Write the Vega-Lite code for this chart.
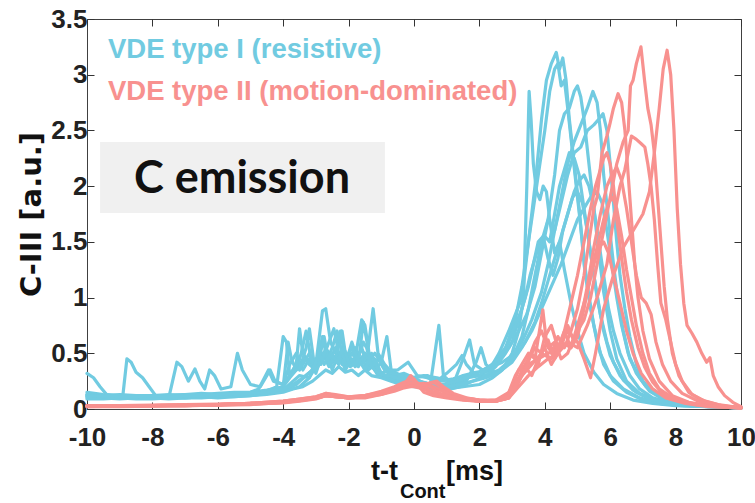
{
"$schema": "https://vega.github.io/schema/vega-lite/v6.json",
"width": 654, "height": 390,
"autosize": {"type": "none"},
"padding": {"left": 87, "top": 19, "right": 14, "bottom": 94},
"background": "white",
"config": {
 "view": {"stroke": "#404040", "strokeWidth": 1},
 "axis": {"labelFont": "Liberation Sans, Arial, sans-serif", "labelFontSize": 26, "labelFontWeight": "bold", "labelColor": "#222", "tickColor": "#333333", "tickWidth": 1, "ticks": true, "domain": false, "grid": false, "tickSize": -7, "labelOverlap": false, "labelFlush": false, "labelBound": false}
},
"datasets": {
 "box": [{"x": -9.6, "x2": -0.89, "y": 2.396, "y2": 1.759}],
 "leg": [{"t": "VDE type I (resistive)", "g": "I", "x": -9.36, "y": 3.15}, {"t": "VDE type II (motion-dominated)", "g": "II", "x": -9.36, "y": 2.77}],
 "lab": [{"t": "C emission", "x": -5.26, "y": 1.94}],
 "xt1": [{"t": "t-t", "x": -0.49, "y": -0.64}],
 "xt3": [{"t": "[ms]", "x": 0.98, "y": -0.64}],
 "xt2": [{"t": "Cont", "x": -0.43, "y": -0.8}],
 "lines": [
{"g":"I","s":1,"x":-10,"y":0.13},{"g":"I","s":1,"x":-9.5,"y":0.12},{"g":"I","s":1,"x":-9,"y":0.11},{"g":"I","s":1,"x":-8.5,"y":0.12},{"g":"I","s":1,"x":-8,"y":0.11},{"g":"I","s":1,"x":-7.5,"y":0.12},{"g":"I","s":1,"x":-7,"y":0.11},{"g":"I","s":1,"x":-6.5,"y":0.12},{"g":"I","s":1,"x":-6,"y":0.13},{"g":"I","s":1,"x":-5.5,"y":0.12},{"g":"I","s":1,"x":-5,"y":0.14},{"g":"I","s":1,"x":-4.5,"y":0.15},{"g":"I","s":1,"x":-4,"y":0.17},{"g":"I","s":1,"x":-3.7,"y":0.25},{"g":"I","s":1,"x":-3.5,"y":0.3},{"g":"I","s":1,"x":-3.2,"y":0.28},{"g":"I","s":1,"x":-3,"y":0.38},{"g":"I","s":1,"x":-2.8,"y":0.5},{"g":"I","s":1,"x":-2.6,"y":0.42},{"g":"I","s":1,"x":-2.4,"y":0.55},{"g":"I","s":1,"x":-2.2,"y":0.4},{"g":"I","s":1,"x":-2,"y":0.48},{"g":"I","s":1,"x":-1.8,"y":0.38},{"g":"I","s":1,"x":-1.6,"y":0.45},{"g":"I","s":1,"x":-1.4,"y":0.35},{"g":"I","s":1,"x":-1.2,"y":0.4},{"g":"I","s":1,"x":-1,"y":0.3},{"g":"I","s":1,"x":-0.7,"y":0.28},{"g":"I","s":1,"x":-0.4,"y":0.25},{"g":"I","s":1,"x":0,"y":0.22},{"g":"I","s":1,"x":0.5,"y":0.2},{"g":"I","s":1,"x":1,"y":0.18},{"g":"I","s":1,"x":1.5,"y":0.2},{"g":"I","s":1,"x":2,"y":0.22},{"g":"I","s":1,"x":2.4,"y":0.28},{"g":"I","s":1,"x":2.7,"y":0.35},{"g":"I","s":1,"x":3,"y":0.5},{"g":"I","s":1,"x":3.2,"y":0.7},{"g":"I","s":1,"x":3.35,"y":1.0},{"g":"I","s":1,"x":3.45,"y":2.0},{"g":"I","s":1,"x":3.52,"y":2.85},{"g":"I","s":1,"x":3.58,"y":2.6},{"g":"I","s":1,"x":3.65,"y":2.2},{"g":"I","s":1,"x":3.75,"y":1.95},{"g":"I","s":1,"x":3.85,"y":1.88},{"g":"I","s":1,"x":3.95,"y":2.0},{"g":"I","s":1,"x":4.05,"y":1.95},{"g":"I","s":1,"x":4.15,"y":1.7},{"g":"I","s":1,"x":4.3,"y":1.4},{"g":"I","s":1,"x":4.45,"y":1.5},{"g":"I","s":1,"x":4.6,"y":1.25},{"g":"I","s":1,"x":4.8,"y":0.95},{"g":"I","s":1,"x":5,"y":0.7},{"g":"I","s":1,"x":5.2,"y":0.5},{"g":"I","s":1,"x":5.5,"y":0.33},{"g":"I","s":1,"x":5.8,"y":0.22},{"g":"I","s":1,"x":6.2,"y":0.14},{"g":"I","s":1,"x":6.7,"y":0.08},{"g":"I","s":1,"x":7.3,"y":0.05},{"g":"I","s":1,"x":8,"y":0.03},{"g":"I","s":1,"x":9,"y":0.02},{"g":"I","s":1,"x":10,"y":0.01},
{"g":"I","s":2,"x":-10,"y":0.15},{"g":"I","s":2,"x":-9.5,"y":0.13},{"g":"I","s":2,"x":-9,"y":0.12},{"g":"I","s":2,"x":-8.9,"y":0.13},{"g":"I","s":2,"x":-8.78,"y":0.45},{"g":"I","s":2,"x":-8.65,"y":0.42},{"g":"I","s":2,"x":-8.5,"y":0.33},{"g":"I","s":2,"x":-8.3,"y":0.28},{"g":"I","s":2,"x":-8.1,"y":0.2},{"g":"I","s":2,"x":-7.9,"y":0.12},{"g":"I","s":2,"x":-7.5,"y":0.12},{"g":"I","s":2,"x":-7,"y":0.13},{"g":"I","s":2,"x":-6.5,"y":0.12},{"g":"I","s":2,"x":-6,"y":0.13},{"g":"I","s":2,"x":-5.5,"y":0.14},{"g":"I","s":2,"x":-5,"y":0.15},{"g":"I","s":2,"x":-4.5,"y":0.17},{"g":"I","s":2,"x":-4,"y":0.2},{"g":"I","s":2,"x":-3.85,"y":0.6},{"g":"I","s":2,"x":-3.75,"y":0.45},{"g":"I","s":2,"x":-3.6,"y":0.35},{"g":"I","s":2,"x":-3.45,"y":0.5},{"g":"I","s":2,"x":-3.3,"y":0.7},{"g":"I","s":2,"x":-3.15,"y":0.45},{"g":"I","s":2,"x":-3,"y":0.4},{"g":"I","s":2,"x":-2.8,"y":0.88},{"g":"I","s":2,"x":-2.7,"y":0.9},{"g":"I","s":2,"x":-2.55,"y":0.6},{"g":"I","s":2,"x":-2.4,"y":0.5},{"g":"I","s":2,"x":-2.25,"y":0.7},{"g":"I","s":2,"x":-2.1,"y":0.45},{"g":"I","s":2,"x":-1.9,"y":0.5},{"g":"I","s":2,"x":-1.7,"y":0.42},{"g":"I","s":2,"x":-1.55,"y":0.78},{"g":"I","s":2,"x":-1.4,"y":0.55},{"g":"I","s":2,"x":-1.25,"y":0.9},{"g":"I","s":2,"x":-1.1,"y":0.5},{"g":"I","s":2,"x":-0.9,"y":0.4},{"g":"I","s":2,"x":-0.6,"y":0.3},{"g":"I","s":2,"x":-0.3,"y":0.32},{"g":"I","s":2,"x":0,"y":0.28},{"g":"I","s":2,"x":0.4,"y":0.3},{"g":"I","s":2,"x":0.8,"y":0.25},{"g":"I","s":2,"x":1.2,"y":0.27},{"g":"I","s":2,"x":1.6,"y":0.3},{"g":"I","s":2,"x":2,"y":0.33},{"g":"I","s":2,"x":2.4,"y":0.4},{"g":"I","s":2,"x":2.8,"y":0.55},{"g":"I","s":2,"x":3.1,"y":0.8},{"g":"I","s":2,"x":3.3,"y":1.1},{"g":"I","s":2,"x":3.5,"y":1.5},{"g":"I","s":2,"x":3.7,"y":2.0},{"g":"I","s":2,"x":3.9,"y":2.6},{"g":"I","s":2,"x":4.05,"y":2.95},{"g":"I","s":2,"x":4.2,"y":3.1},{"g":"I","s":2,"x":4.35,"y":3.2},{"g":"I","s":2,"x":4.45,"y":3.05},{"g":"I","s":2,"x":4.55,"y":3.15},{"g":"I","s":2,"x":4.65,"y":2.95},{"g":"I","s":2,"x":4.75,"y":2.6},{"g":"I","s":2,"x":4.9,"y":2.2},{"g":"I","s":2,"x":5.05,"y":1.8},{"g":"I","s":2,"x":5.2,"y":1.3},{"g":"I","s":2,"x":5.4,"y":0.9},{"g":"I","s":2,"x":5.6,"y":0.6},{"g":"I","s":2,"x":5.8,"y":0.4},{"g":"I","s":2,"x":6.1,"y":0.25},{"g":"I","s":2,"x":6.5,"y":0.15},{"g":"I","s":2,"x":7,"y":0.08},{"g":"I","s":2,"x":7.5,"y":0.05},{"g":"I","s":2,"x":8.2,"y":0.03},{"g":"I","s":2,"x":9,"y":0.02},{"g":"I","s":2,"x":10,"y":0.01},
{"g":"I","s":3,"x":-10,"y":0.32},{"g":"I","s":3,"x":-9.8,"y":0.28},{"g":"I","s":3,"x":-9.6,"y":0.2},{"g":"I","s":3,"x":-9.4,"y":0.13},{"g":"I","s":3,"x":-9,"y":0.11},{"g":"I","s":3,"x":-8.5,"y":0.1},{"g":"I","s":3,"x":-8,"y":0.1},{"g":"I","s":3,"x":-7.5,"y":0.1},{"g":"I","s":3,"x":-7.25,"y":0.42},{"g":"I","s":3,"x":-7.1,"y":0.38},{"g":"I","s":3,"x":-6.9,"y":0.25},{"g":"I","s":3,"x":-6.7,"y":0.36},{"g":"I","s":3,"x":-6.55,"y":0.25},{"g":"I","s":3,"x":-6.4,"y":0.18},{"g":"I","s":3,"x":-6.25,"y":0.35},{"g":"I","s":3,"x":-6.1,"y":0.3},{"g":"I","s":3,"x":-5.9,"y":0.18},{"g":"I","s":3,"x":-5.6,"y":0.2},{"g":"I","s":3,"x":-5.4,"y":0.5},{"g":"I","s":3,"x":-5.25,"y":0.35},{"g":"I","s":3,"x":-5,"y":0.22},{"g":"I","s":3,"x":-4.7,"y":0.2},{"g":"I","s":3,"x":-4.4,"y":0.35},{"g":"I","s":3,"x":-4.25,"y":0.25},{"g":"I","s":3,"x":-4,"y":0.22},{"g":"I","s":3,"x":-3.8,"y":0.4},{"g":"I","s":3,"x":-3.6,"y":0.5},{"g":"I","s":3,"x":-3.4,"y":0.35},{"g":"I","s":3,"x":-3.2,"y":0.45},{"g":"I","s":3,"x":-3,"y":0.32},{"g":"I","s":3,"x":-2.8,"y":0.5},{"g":"I","s":3,"x":-2.6,"y":0.38},{"g":"I","s":3,"x":-2.4,"y":0.45},{"g":"I","s":3,"x":-2.2,"y":0.7},{"g":"I","s":3,"x":-2.05,"y":0.4},{"g":"I","s":3,"x":-1.8,"y":0.4},{"g":"I","s":3,"x":-1.6,"y":0.55},{"g":"I","s":3,"x":-1.4,"y":0.38},{"g":"I","s":3,"x":-1.2,"y":0.45},{"g":"I","s":3,"x":-1,"y":0.32},{"g":"I","s":3,"x":-0.8,"y":0.35},{"g":"I","s":3,"x":-0.5,"y":0.28},{"g":"I","s":3,"x":-0.2,"y":0.3},{"g":"I","s":3,"x":0.2,"y":0.25},{"g":"I","s":3,"x":0.5,"y":0.22},{"g":"I","s":3,"x":0.76,"y":0.75},{"g":"I","s":3,"x":0.9,"y":0.3},{"g":"I","s":3,"x":1.2,"y":0.22},{"g":"I","s":3,"x":1.5,"y":0.25},{"g":"I","s":3,"x":1.7,"y":0.3},{"g":"I","s":3,"x":2,"y":0.3},{"g":"I","s":3,"x":2.3,"y":0.35},{"g":"I","s":3,"x":2.6,"y":0.5},{"g":"I","s":3,"x":2.9,"y":0.7},{"g":"I","s":3,"x":3.1,"y":0.85},{"g":"I","s":3,"x":3.3,"y":1.0},{"g":"I","s":3,"x":3.5,"y":1.5},{"g":"I","s":3,"x":3.7,"y":1.9},{"g":"I","s":3,"x":3.85,"y":2.2},{"g":"I","s":3,"x":4.0,"y":2.5},{"g":"I","s":3,"x":4.15,"y":2.85},{"g":"I","s":3,"x":4.3,"y":3.05},{"g":"I","s":3,"x":4.4,"y":3.1},{"g":"I","s":3,"x":4.5,"y":2.9},{"g":"I","s":3,"x":4.6,"y":2.95},{"g":"I","s":3,"x":4.7,"y":2.7},{"g":"I","s":3,"x":4.85,"y":2.3},{"g":"I","s":3,"x":5.0,"y":1.9},{"g":"I","s":3,"x":5.15,"y":1.5},{"g":"I","s":3,"x":5.3,"y":1.1},{"g":"I","s":3,"x":5.5,"y":0.75},{"g":"I","s":3,"x":5.7,"y":0.5},{"g":"I","s":3,"x":6,"y":0.3},{"g":"I","s":3,"x":6.4,"y":0.18},{"g":"I","s":3,"x":6.9,"y":0.1},{"g":"I","s":3,"x":7.5,"y":0.05},{"g":"I","s":3,"x":8.3,"y":0.03},{"g":"I","s":3,"x":9.2,"y":0.02},{"g":"I","s":3,"x":10,"y":0.01},
{"g":"I","s":4,"x":-10,"y":0.12},{"g":"I","s":4,"x":-9.5,"y":0.11},{"g":"I","s":4,"x":-9,"y":0.12},{"g":"I","s":4,"x":-8.5,"y":0.11},{"g":"I","s":4,"x":-8,"y":0.12},{"g":"I","s":4,"x":-7.5,"y":0.13},{"g":"I","s":4,"x":-7,"y":0.12},{"g":"I","s":4,"x":-6.5,"y":0.13},{"g":"I","s":4,"x":-6,"y":0.14},{"g":"I","s":4,"x":-5.5,"y":0.15},{"g":"I","s":4,"x":-5,"y":0.15},{"g":"I","s":4,"x":-4.5,"y":0.16},{"g":"I","s":4,"x":-4.2,"y":0.2},{"g":"I","s":4,"x":-4,"y":0.65},{"g":"I","s":4,"x":-3.9,"y":0.6},{"g":"I","s":4,"x":-3.8,"y":0.3},{"g":"I","s":4,"x":-3.6,"y":0.4},{"g":"I","s":4,"x":-3.5,"y":0.72},{"g":"I","s":4,"x":-3.4,"y":0.5},{"g":"I","s":4,"x":-3.2,"y":0.4},{"g":"I","s":4,"x":-3,"y":0.35},{"g":"I","s":4,"x":-2.8,"y":0.65},{"g":"I","s":4,"x":-2.65,"y":0.45},{"g":"I","s":4,"x":-2.5,"y":0.55},{"g":"I","s":4,"x":-2.35,"y":0.7},{"g":"I","s":4,"x":-2.2,"y":0.5},{"g":"I","s":4,"x":-2,"y":0.45},{"g":"I","s":4,"x":-1.8,"y":0.55},{"g":"I","s":4,"x":-1.6,"y":0.4},{"g":"I","s":4,"x":-1.4,"y":0.5},{"g":"I","s":4,"x":-1.2,"y":0.35},{"g":"I","s":4,"x":-1,"y":0.42},{"g":"I","s":4,"x":-0.83,"y":0.65},{"g":"I","s":4,"x":-0.7,"y":0.35},{"g":"I","s":4,"x":-0.4,"y":0.3},{"g":"I","s":4,"x":-0.1,"y":0.28},{"g":"I","s":4,"x":0.3,"y":0.3},{"g":"I","s":4,"x":0.7,"y":0.28},{"g":"I","s":4,"x":1.1,"y":0.25},{"g":"I","s":4,"x":1.5,"y":0.3},{"g":"I","s":4,"x":1.9,"y":0.33},{"g":"I","s":4,"x":2.3,"y":0.35},{"g":"I","s":4,"x":2.6,"y":0.45},{"g":"I","s":4,"x":2.9,"y":0.55},{"g":"I","s":4,"x":3.2,"y":0.7},{"g":"I","s":4,"x":3.45,"y":0.85},{"g":"I","s":4,"x":3.7,"y":1.1},{"g":"I","s":4,"x":3.9,"y":1.4},{"g":"I","s":4,"x":4.1,"y":1.7},{"g":"I","s":4,"x":4.3,"y":2.1},{"g":"I","s":4,"x":4.45,"y":2.5},{"g":"I","s":4,"x":4.6,"y":2.65},{"g":"I","s":4,"x":4.75,"y":2.7},{"g":"I","s":4,"x":4.9,"y":2.85},{"g":"I","s":4,"x":5.0,"y":2.9},{"g":"I","s":4,"x":5.1,"y":2.8},{"g":"I","s":4,"x":5.2,"y":2.6},{"g":"I","s":4,"x":5.35,"y":2.2},{"g":"I","s":4,"x":5.5,"y":1.8},{"g":"I","s":4,"x":5.65,"y":1.4},{"g":"I","s":4,"x":5.8,"y":1.05},{"g":"I","s":4,"x":6.0,"y":0.7},{"g":"I","s":4,"x":6.2,"y":0.45},{"g":"I","s":4,"x":6.5,"y":0.25},{"g":"I","s":4,"x":6.9,"y":0.14},{"g":"I","s":4,"x":7.4,"y":0.08},{"g":"I","s":4,"x":8,"y":0.04},{"g":"I","s":4,"x":9,"y":0.02},{"g":"I","s":4,"x":10,"y":0.01},
{"g":"I","s":5,"x":-10,"y":0.1},{"g":"I","s":5,"x":-9.5,"y":0.1},{"g":"I","s":5,"x":-9,"y":0.09},{"g":"I","s":5,"x":-8.5,"y":0.1},{"g":"I","s":5,"x":-8,"y":0.1},{"g":"I","s":5,"x":-7.5,"y":0.09},{"g":"I","s":5,"x":-7,"y":0.1},{"g":"I","s":5,"x":-6.5,"y":0.11},{"g":"I","s":5,"x":-6,"y":0.1},{"g":"I","s":5,"x":-5.5,"y":0.11},{"g":"I","s":5,"x":-5,"y":0.12},{"g":"I","s":5,"x":-4.5,"y":0.14},{"g":"I","s":5,"x":-4,"y":0.17},{"g":"I","s":5,"x":-3.6,"y":0.22},{"g":"I","s":5,"x":-3.3,"y":0.3},{"g":"I","s":5,"x":-3,"y":0.38},{"g":"I","s":5,"x":-2.85,"y":0.6},{"g":"I","s":5,"x":-2.7,"y":0.55},{"g":"I","s":5,"x":-2.5,"y":0.35},{"g":"I","s":5,"x":-2.3,"y":0.5},{"g":"I","s":5,"x":-2.1,"y":0.4},{"g":"I","s":5,"x":-1.9,"y":0.6},{"g":"I","s":5,"x":-1.7,"y":0.42},{"g":"I","s":5,"x":-1.5,"y":0.5},{"g":"I","s":5,"x":-1.3,"y":0.38},{"g":"I","s":5,"x":-1.1,"y":0.45},{"g":"I","s":5,"x":-0.9,"y":0.35},{"g":"I","s":5,"x":-0.6,"y":0.28},{"g":"I","s":5,"x":-0.3,"y":0.25},{"g":"I","s":5,"x":0,"y":0.27},{"g":"I","s":5,"x":0.4,"y":0.22},{"g":"I","s":5,"x":0.8,"y":0.2},{"g":"I","s":5,"x":1.2,"y":0.22},{"g":"I","s":5,"x":1.5,"y":0.45},{"g":"I","s":5,"x":1.7,"y":0.62},{"g":"I","s":5,"x":1.85,"y":0.4},{"g":"I","s":5,"x":2.1,"y":0.35},{"g":"I","s":5,"x":2.4,"y":0.38},{"g":"I","s":5,"x":2.7,"y":0.42},{"g":"I","s":5,"x":3,"y":0.48},{"g":"I","s":5,"x":3.3,"y":0.6},{"g":"I","s":5,"x":3.6,"y":0.8},{"g":"I","s":5,"x":3.9,"y":1.05},{"g":"I","s":5,"x":4.1,"y":1.3},{"g":"I","s":5,"x":4.3,"y":1.6},{"g":"I","s":5,"x":4.5,"y":1.9},{"g":"I","s":5,"x":4.7,"y":2.2},{"g":"I","s":5,"x":4.9,"y":2.4},{"g":"I","s":5,"x":5.1,"y":2.55},{"g":"I","s":5,"x":5.3,"y":2.7},{"g":"I","s":5,"x":5.47,"y":2.85},{"g":"I","s":5,"x":5.6,"y":2.75},{"g":"I","s":5,"x":5.7,"y":2.5},{"g":"I","s":5,"x":5.8,"y":2.1},{"g":"I","s":5,"x":5.95,"y":1.7},{"g":"I","s":5,"x":6.1,"y":1.3},{"g":"I","s":5,"x":6.25,"y":0.95},{"g":"I","s":5,"x":6.4,"y":0.7},{"g":"I","s":5,"x":6.6,"y":0.45},{"g":"I","s":5,"x":6.9,"y":0.28},{"g":"I","s":5,"x":7.2,"y":0.16},{"g":"I","s":5,"x":7.6,"y":0.09},{"g":"I","s":5,"x":8.1,"y":0.05},{"g":"I","s":5,"x":8.8,"y":0.03},{"g":"I","s":5,"x":10,"y":0.01},
{"g":"I","s":6,"x":-10,"y":0.11},{"g":"I","s":6,"x":-9.5,"y":0.1},{"g":"I","s":6,"x":-9,"y":0.11},{"g":"I","s":6,"x":-8.5,"y":0.1},{"g":"I","s":6,"x":-8,"y":0.1},{"g":"I","s":6,"x":-7.5,"y":0.11},{"g":"I","s":6,"x":-7,"y":0.1},{"g":"I","s":6,"x":-6.5,"y":0.11},{"g":"I","s":6,"x":-6,"y":0.12},{"g":"I","s":6,"x":-5.5,"y":0.12},{"g":"I","s":6,"x":-5,"y":0.13},{"g":"I","s":6,"x":-4.5,"y":0.14},{"g":"I","s":6,"x":-4,"y":0.16},{"g":"I","s":6,"x":-3.5,"y":0.2},{"g":"I","s":6,"x":-3.2,"y":0.28},{"g":"I","s":6,"x":-3,"y":0.45},{"g":"I","s":6,"x":-2.85,"y":0.4},{"g":"I","s":6,"x":-2.7,"y":0.55},{"g":"I","s":6,"x":-2.5,"y":0.45},{"g":"I","s":6,"x":-2.3,"y":0.5},{"g":"I","s":6,"x":-2.1,"y":0.35},{"g":"I","s":6,"x":-1.9,"y":0.45},{"g":"I","s":6,"x":-1.7,"y":0.38},{"g":"I","s":6,"x":-1.5,"y":0.5},{"g":"I","s":6,"x":-1.3,"y":0.4},{"g":"I","s":6,"x":-1.1,"y":0.3},{"g":"I","s":6,"x":-0.9,"y":0.28},{"g":"I","s":6,"x":-0.6,"y":0.25},{"g":"I","s":6,"x":-0.2,"y":0.22},{"g":"I","s":6,"x":0.2,"y":0.2},{"g":"I","s":6,"x":0.6,"y":0.18},{"g":"I","s":6,"x":1,"y":0.17},{"g":"I","s":6,"x":1.4,"y":0.2},{"g":"I","s":6,"x":1.8,"y":0.25},{"g":"I","s":6,"x":2.2,"y":0.3},{"g":"I","s":6,"x":2.6,"y":0.35},{"g":"I","s":6,"x":3.0,"y":0.45},{"g":"I","s":6,"x":3.3,"y":0.65},{"g":"I","s":6,"x":3.5,"y":0.9},{"g":"I","s":6,"x":3.7,"y":1.2},{"g":"I","s":6,"x":3.9,"y":1.5},{"g":"I","s":6,"x":4.1,"y":1.7},{"g":"I","s":6,"x":4.3,"y":1.6},{"g":"I","s":6,"x":4.5,"y":1.85},{"g":"I","s":6,"x":4.7,"y":2.1},{"g":"I","s":6,"x":4.9,"y":2.3},{"g":"I","s":6,"x":5.1,"y":2.35},{"g":"I","s":6,"x":5.3,"y":2.5},{"g":"I","s":6,"x":5.5,"y":2.55},{"g":"I","s":6,"x":5.65,"y":2.6},{"g":"I","s":6,"x":5.78,"y":2.65},{"g":"I","s":6,"x":5.9,"y":2.5},{"g":"I","s":6,"x":6.0,"y":2.2},{"g":"I","s":6,"x":6.1,"y":1.85},{"g":"I","s":6,"x":6.2,"y":1.5},{"g":"I","s":6,"x":6.3,"y":1.2},{"g":"I","s":6,"x":6.45,"y":0.9},{"g":"I","s":6,"x":6.6,"y":0.65},{"g":"I","s":6,"x":6.8,"y":0.4},{"g":"I","s":6,"x":7.0,"y":0.25},{"g":"I","s":6,"x":7.3,"y":0.15},{"g":"I","s":6,"x":7.7,"y":0.09},{"g":"I","s":6,"x":8.3,"y":0.05},{"g":"I","s":6,"x":9,"y":0.03},{"g":"I","s":6,"x":10,"y":0.01},
{"g":"I","s":7,"x":-10,"y":0.13},{"g":"I","s":7,"x":-9.5,"y":0.12},{"g":"I","s":7,"x":-9,"y":0.13},{"g":"I","s":7,"x":-8.5,"y":0.12},{"g":"I","s":7,"x":-8,"y":0.12},{"g":"I","s":7,"x":-7.5,"y":0.12},{"g":"I","s":7,"x":-7,"y":0.13},{"g":"I","s":7,"x":-6.5,"y":0.14},{"g":"I","s":7,"x":-6,"y":0.13},{"g":"I","s":7,"x":-5.5,"y":0.14},{"g":"I","s":7,"x":-5,"y":0.15},{"g":"I","s":7,"x":-4.75,"y":0.18},{"g":"I","s":7,"x":-4.45,"y":0.35},{"g":"I","s":7,"x":-4.3,"y":0.25},{"g":"I","s":7,"x":-4,"y":0.22},{"g":"I","s":7,"x":-3.8,"y":0.3},{"g":"I","s":7,"x":-3.6,"y":0.4},{"g":"I","s":7,"x":-3.5,"y":0.35},{"g":"I","s":7,"x":-3.3,"y":0.55},{"g":"I","s":7,"x":-3.2,"y":0.72},{"g":"I","s":7,"x":-3.05,"y":0.4},{"g":"I","s":7,"x":-2.9,"y":0.45},{"g":"I","s":7,"x":-2.75,"y":0.65},{"g":"I","s":7,"x":-2.6,"y":0.4},{"g":"I","s":7,"x":-2.45,"y":0.45},{"g":"I","s":7,"x":-2.3,"y":0.4},{"g":"I","s":7,"x":-2.15,"y":0.55},{"g":"I","s":7,"x":-2,"y":0.42},{"g":"I","s":7,"x":-1.8,"y":0.45},{"g":"I","s":7,"x":-1.6,"y":0.8},{"g":"I","s":7,"x":-1.5,"y":0.75},{"g":"I","s":7,"x":-1.35,"y":0.45},{"g":"I","s":7,"x":-1.2,"y":0.5},{"g":"I","s":7,"x":-1,"y":0.42},{"g":"I","s":7,"x":-0.8,"y":0.35},{"g":"I","s":7,"x":-0.5,"y":0.35},{"g":"I","s":7,"x":-0.18,"y":0.42},{"g":"I","s":7,"x":0.1,"y":0.3},{"g":"I","s":7,"x":0.4,"y":0.28},{"g":"I","s":7,"x":0.7,"y":0.25},{"g":"I","s":7,"x":1.0,"y":0.32},{"g":"I","s":7,"x":1.3,"y":0.4},{"g":"I","s":7,"x":1.47,"y":0.48},{"g":"I","s":7,"x":1.6,"y":0.4},{"g":"I","s":7,"x":1.9,"y":0.3},{"g":"I","s":7,"x":2.2,"y":0.3},{"g":"I","s":7,"x":2.5,"y":0.38},{"g":"I","s":7,"x":2.8,"y":0.5},{"g":"I","s":7,"x":3.0,"y":0.6},{"g":"I","s":7,"x":3.2,"y":0.8},{"g":"I","s":7,"x":3.4,"y":1.0},{"g":"I","s":7,"x":3.55,"y":1.2},{"g":"I","s":7,"x":3.7,"y":1.35},{"g":"I","s":7,"x":3.85,"y":1.5},{"g":"I","s":7,"x":4.0,"y":1.55},{"g":"I","s":7,"x":4.15,"y":1.5},{"g":"I","s":7,"x":4.3,"y":1.75},{"g":"I","s":7,"x":4.45,"y":2.0},{"g":"I","s":7,"x":4.6,"y":2.15},{"g":"I","s":7,"x":4.75,"y":2.3},{"g":"I","s":7,"x":4.9,"y":2.25},{"g":"I","s":7,"x":5.05,"y":2.1},{"g":"I","s":7,"x":5.2,"y":1.8},{"g":"I","s":7,"x":5.35,"y":1.5},{"g":"I","s":7,"x":5.5,"y":1.2},{"g":"I","s":7,"x":5.7,"y":0.85},{"g":"I","s":7,"x":5.9,"y":0.6},{"g":"I","s":7,"x":6.1,"y":0.42},{"g":"I","s":7,"x":6.4,"y":0.26},{"g":"I","s":7,"x":6.8,"y":0.15},{"g":"I","s":7,"x":7.3,"y":0.08},{"g":"I","s":7,"x":8,"y":0.04},{"g":"I","s":7,"x":9,"y":0.02},{"g":"I","s":7,"x":10,"y":0.01},
{"g":"I","s":8,"x":-10,"y":0.09},{"g":"I","s":8,"x":-9.5,"y":0.09},{"g":"I","s":8,"x":-9,"y":0.1},{"g":"I","s":8,"x":-8.5,"y":0.09},{"g":"I","s":8,"x":-8,"y":0.09},{"g":"I","s":8,"x":-7.5,"y":0.1},{"g":"I","s":8,"x":-7,"y":0.1},{"g":"I","s":8,"x":-6.5,"y":0.1},{"g":"I","s":8,"x":-6,"y":0.11},{"g":"I","s":8,"x":-5.5,"y":0.11},{"g":"I","s":8,"x":-5,"y":0.12},{"g":"I","s":8,"x":-4.5,"y":0.13},{"g":"I","s":8,"x":-4,"y":0.15},{"g":"I","s":8,"x":-3.7,"y":0.18},{"g":"I","s":8,"x":-3.4,"y":0.2},{"g":"I","s":8,"x":-3.1,"y":0.25},{"g":"I","s":8,"x":-2.9,"y":0.3},{"g":"I","s":8,"x":-2.7,"y":0.35},{"g":"I","s":8,"x":-2.5,"y":0.32},{"g":"I","s":8,"x":-2.3,"y":0.38},{"g":"I","s":8,"x":-2.1,"y":0.33},{"g":"I","s":8,"x":-1.9,"y":0.35},{"g":"I","s":8,"x":-1.7,"y":0.3},{"g":"I","s":8,"x":-1.5,"y":0.35},{"g":"I","s":8,"x":-1.3,"y":0.3},{"g":"I","s":8,"x":-1.0,"y":0.28},{"g":"I","s":8,"x":-0.7,"y":0.25},{"g":"I","s":8,"x":-0.4,"y":0.22},{"g":"I","s":8,"x":0,"y":0.2},{"g":"I","s":8,"x":0.4,"y":0.19},{"g":"I","s":8,"x":0.8,"y":0.18},{"g":"I","s":8,"x":1.2,"y":0.2},{"g":"I","s":8,"x":1.6,"y":0.25},{"g":"I","s":8,"x":1.9,"y":0.42},{"g":"I","s":8,"x":2.05,"y":0.55},{"g":"I","s":8,"x":2.2,"y":0.4},{"g":"I","s":8,"x":2.5,"y":0.32},{"g":"I","s":8,"x":2.8,"y":0.38},{"g":"I","s":8,"x":3.1,"y":0.48},{"g":"I","s":8,"x":3.4,"y":0.6},{"g":"I","s":8,"x":3.7,"y":0.78},{"g":"I","s":8,"x":3.9,"y":0.95},{"g":"I","s":8,"x":4.1,"y":1.15},{"g":"I","s":8,"x":4.3,"y":1.35},{"g":"I","s":8,"x":4.5,"y":1.55},{"g":"I","s":8,"x":4.7,"y":1.75},{"g":"I","s":8,"x":4.9,"y":1.95},{"g":"I","s":8,"x":5.05,"y":2.05},{"g":"I","s":8,"x":5.2,"y":2.1},{"g":"I","s":8,"x":5.35,"y":2.0},{"g":"I","s":8,"x":5.5,"y":1.8},{"g":"I","s":8,"x":5.65,"y":1.5},{"g":"I","s":8,"x":5.8,"y":1.2},{"g":"I","s":8,"x":5.95,"y":0.9},{"g":"I","s":8,"x":6.1,"y":0.7},{"g":"I","s":8,"x":6.3,"y":0.5},{"g":"I","s":8,"x":6.6,"y":0.3},{"g":"I","s":8,"x":6.9,"y":0.18},{"g":"I","s":8,"x":7.3,"y":0.1},{"g":"I","s":8,"x":7.8,"y":0.06},{"g":"I","s":8,"x":8.5,"y":0.03},{"g":"I","s":8,"x":10,"y":0.01},
{"g":"I","s":9,"x":-10,"y":0.12},{"g":"I","s":9,"x":-9.5,"y":0.11},{"g":"I","s":9,"x":-9,"y":0.12},{"g":"I","s":9,"x":-8.5,"y":0.11},{"g":"I","s":9,"x":-8,"y":0.12},{"g":"I","s":9,"x":-7.5,"y":0.12},{"g":"I","s":9,"x":-7,"y":0.11},{"g":"I","s":9,"x":-6.5,"y":0.12},{"g":"I","s":9,"x":-6,"y":0.12},{"g":"I","s":9,"x":-5.5,"y":0.13},{"g":"I","s":9,"x":-5,"y":0.14},{"g":"I","s":9,"x":-4.5,"y":0.16},{"g":"I","s":9,"x":-4.2,"y":0.18},{"g":"I","s":9,"x":-4,"y":0.2},{"g":"I","s":9,"x":-3.8,"y":0.28},{"g":"I","s":9,"x":-3.6,"y":0.35},{"g":"I","s":9,"x":-3.4,"y":0.4},{"g":"I","s":9,"x":-3.2,"y":0.5},{"g":"I","s":9,"x":-3.0,"y":0.35},{"g":"I","s":9,"x":-2.8,"y":0.45},{"g":"I","s":9,"x":-2.6,"y":0.6},{"g":"I","s":9,"x":-2.45,"y":0.72},{"g":"I","s":9,"x":-2.3,"y":0.5},{"g":"I","s":9,"x":-2.1,"y":0.45},{"g":"I","s":9,"x":-1.9,"y":0.55},{"g":"I","s":9,"x":-1.7,"y":0.45},{"g":"I","s":9,"x":-1.5,"y":0.35},{"g":"I","s":9,"x":-1.3,"y":0.5},{"g":"I","s":9,"x":-1.1,"y":0.35},{"g":"I","s":9,"x":-0.9,"y":0.3},{"g":"I","s":9,"x":-0.6,"y":0.32},{"g":"I","s":9,"x":-0.3,"y":0.28},{"g":"I","s":9,"x":0,"y":0.25},{"g":"I","s":9,"x":0.4,"y":0.23},{"g":"I","s":9,"x":0.8,"y":0.22},{"g":"I","s":9,"x":1.2,"y":0.24},{"g":"I","s":9,"x":1.6,"y":0.28},{"g":"I","s":9,"x":2.0,"y":0.3},{"g":"I","s":9,"x":2.3,"y":0.38},{"g":"I","s":9,"x":2.6,"y":0.45},{"g":"I","s":9,"x":2.9,"y":0.6},{"g":"I","s":9,"x":3.1,"y":0.75},{"g":"I","s":9,"x":3.3,"y":0.9},{"g":"I","s":9,"x":3.5,"y":1.1},{"g":"I","s":9,"x":3.65,"y":1.3},{"g":"I","s":9,"x":3.8,"y":1.5},{"g":"I","s":9,"x":3.95,"y":1.55},{"g":"I","s":9,"x":4.1,"y":1.35},{"g":"I","s":9,"x":4.25,"y":1.2},{"g":"I","s":9,"x":4.4,"y":1.35},{"g":"I","s":9,"x":4.55,"y":1.6},{"g":"I","s":9,"x":4.7,"y":1.75},{"g":"I","s":9,"x":4.85,"y":1.9},{"g":"I","s":9,"x":5.0,"y":1.95},{"g":"I","s":9,"x":5.15,"y":1.85},{"g":"I","s":9,"x":5.3,"y":1.6},{"g":"I","s":9,"x":5.45,"y":1.3},{"g":"I","s":9,"x":5.6,"y":1.0},{"g":"I","s":9,"x":5.8,"y":0.7},{"g":"I","s":9,"x":6.0,"y":0.48},{"g":"I","s":9,"x":6.3,"y":0.3},{"g":"I","s":9,"x":6.7,"y":0.17},{"g":"I","s":9,"x":7.2,"y":0.09},{"g":"I","s":9,"x":7.8,"y":0.05},{"g":"I","s":9,"x":8.6,"y":0.03},{"g":"I","s":9,"x":10,"y":0.01},
{"g":"I","s":10,"x":-10,"y":0.11},{"g":"I","s":10,"x":-9.5,"y":0.12},{"g":"I","s":10,"x":-9,"y":0.11},{"g":"I","s":10,"x":-8.5,"y":0.11},{"g":"I","s":10,"x":-8,"y":0.12},{"g":"I","s":10,"x":-7.5,"y":0.11},{"g":"I","s":10,"x":-7,"y":0.12},{"g":"I","s":10,"x":-6.5,"y":0.12},{"g":"I","s":10,"x":-6,"y":0.13},{"g":"I","s":10,"x":-5.5,"y":0.14},{"g":"I","s":10,"x":-5,"y":0.14},{"g":"I","s":10,"x":-4.5,"y":0.15},{"g":"I","s":10,"x":-4,"y":0.18},{"g":"I","s":10,"x":-3.7,"y":0.22},{"g":"I","s":10,"x":-3.4,"y":0.28},{"g":"I","s":10,"x":-3.1,"y":0.35},{"g":"I","s":10,"x":-2.9,"y":0.5},{"g":"I","s":10,"x":-2.75,"y":0.4},{"g":"I","s":10,"x":-2.55,"y":0.5},{"g":"I","s":10,"x":-2.35,"y":0.42},{"g":"I","s":10,"x":-2.15,"y":0.55},{"g":"I","s":10,"x":-1.95,"y":0.38},{"g":"I","s":10,"x":-1.75,"y":0.42},{"g":"I","s":10,"x":-1.55,"y":0.6},{"g":"I","s":10,"x":-1.45,"y":0.55},{"g":"I","s":10,"x":-1.3,"y":0.38},{"g":"I","s":10,"x":-1.1,"y":0.32},{"g":"I","s":10,"x":-0.8,"y":0.3},{"g":"I","s":10,"x":-0.5,"y":0.28},{"g":"I","s":10,"x":-0.2,"y":0.25},{"g":"I","s":10,"x":0.2,"y":0.24},{"g":"I","s":10,"x":0.6,"y":0.22},{"g":"I","s":10,"x":1.0,"y":0.2},{"g":"I","s":10,"x":1.4,"y":0.22},{"g":"I","s":10,"x":1.8,"y":0.25},{"g":"I","s":10,"x":2.2,"y":0.28},{"g":"I","s":10,"x":2.6,"y":0.33},{"g":"I","s":10,"x":3.0,"y":0.42},{"g":"I","s":10,"x":3.3,"y":0.55},{"g":"I","s":10,"x":3.6,"y":0.7},{"g":"I","s":10,"x":3.9,"y":0.9},{"g":"I","s":10,"x":4.2,"y":1.1},{"g":"I","s":10,"x":4.5,"y":1.3},{"g":"I","s":10,"x":4.75,"y":1.5},{"g":"I","s":10,"x":5.0,"y":1.7},{"g":"I","s":10,"x":5.2,"y":1.8},{"g":"I","s":10,"x":5.4,"y":1.9},{"g":"I","s":10,"x":5.6,"y":1.95},{"g":"I","s":10,"x":5.75,"y":1.85},{"g":"I","s":10,"x":5.9,"y":1.6},{"g":"I","s":10,"x":6.05,"y":1.3},{"g":"I","s":10,"x":6.2,"y":1.0},{"g":"I","s":10,"x":6.35,"y":0.75},{"g":"I","s":10,"x":6.55,"y":0.5},{"g":"I","s":10,"x":6.8,"y":0.32},{"g":"I","s":10,"x":7.1,"y":0.2},{"g":"I","s":10,"x":7.5,"y":0.12},{"g":"I","s":10,"x":8.0,"y":0.07},{"g":"I","s":10,"x":8.7,"y":0.04},{"g":"I","s":10,"x":10,"y":0.01},
{"g":"II","s":11,"x":-10,"y":0.03},{"g":"II","s":11,"x":-9,"y":0.03},{"g":"II","s":11,"x":-8,"y":0.03},{"g":"II","s":11,"x":-7,"y":0.035},{"g":"II","s":11,"x":-6,"y":0.04},{"g":"II","s":11,"x":-5,"y":0.05},{"g":"II","s":11,"x":-4,"y":0.07},{"g":"II","s":11,"x":-3.5,"y":0.09},{"g":"II","s":11,"x":-3,"y":0.11},{"g":"II","s":11,"x":-2.7,"y":0.14},{"g":"II","s":11,"x":-2.4,"y":0.12},{"g":"II","s":11,"x":-2,"y":0.1},{"g":"II","s":11,"x":-1.5,"y":0.11},{"g":"II","s":11,"x":-1,"y":0.14},{"g":"II","s":11,"x":-0.6,"y":0.18},{"g":"II","s":11,"x":-0.3,"y":0.22},{"g":"II","s":11,"x":-0.1,"y":0.3},{"g":"II","s":11,"x":0.1,"y":0.22},{"g":"II","s":11,"x":0.3,"y":0.15},{"g":"II","s":11,"x":0.6,"y":0.12},{"g":"II","s":11,"x":1,"y":0.1},{"g":"II","s":11,"x":1.5,"y":0.08},{"g":"II","s":11,"x":2,"y":0.07},{"g":"II","s":11,"x":2.5,"y":0.07},{"g":"II","s":11,"x":2.9,"y":0.12},{"g":"II","s":11,"x":3.1,"y":0.25},{"g":"II","s":11,"x":3.3,"y":0.3},{"g":"II","s":11,"x":3.6,"y":0.4},{"g":"II","s":11,"x":3.9,"y":0.5},{"g":"II","s":11,"x":4.2,"y":0.45},{"g":"II","s":11,"x":4.5,"y":0.6},{"g":"II","s":11,"x":4.8,"y":0.55},{"g":"II","s":11,"x":5.0,"y":0.7},{"g":"II","s":11,"x":5.2,"y":0.8},{"g":"II","s":11,"x":5.4,"y":1.0},{"g":"II","s":11,"x":5.6,"y":1.3},{"g":"II","s":11,"x":5.8,"y":1.6},{"g":"II","s":11,"x":6.0,"y":1.9},{"g":"II","s":11,"x":6.2,"y":2.2},{"g":"II","s":11,"x":6.4,"y":2.4},{"g":"II","s":11,"x":6.55,"y":2.5},{"g":"II","s":11,"x":6.62,"y":2.9},{"g":"II","s":11,"x":6.7,"y":2.95},{"g":"II","s":11,"x":6.8,"y":3.1},{"g":"II","s":11,"x":6.94,"y":3.25},{"g":"II","s":11,"x":7.05,"y":2.95},{"g":"II","s":11,"x":7.15,"y":2.7},{"g":"II","s":11,"x":7.25,"y":2.55},{"g":"II","s":11,"x":7.35,"y":2.3},{"g":"II","s":11,"x":7.45,"y":1.9},{"g":"II","s":11,"x":7.55,"y":1.5},{"g":"II","s":11,"x":7.65,"y":1.1},{"g":"II","s":11,"x":7.75,"y":0.8},{"g":"II","s":11,"x":7.9,"y":0.5},{"g":"II","s":11,"x":8.1,"y":0.3},{"g":"II","s":11,"x":8.4,"y":0.15},{"g":"II","s":11,"x":8.8,"y":0.08},{"g":"II","s":11,"x":9.3,"y":0.04},{"g":"II","s":11,"x":10,"y":0.01},
{"g":"II","s":12,"x":-10,"y":0.02},{"g":"II","s":12,"x":-9,"y":0.02},{"g":"II","s":12,"x":-8,"y":0.025},{"g":"II","s":12,"x":-7,"y":0.03},{"g":"II","s":12,"x":-6,"y":0.035},{"g":"II","s":12,"x":-5,"y":0.04},{"g":"II","s":12,"x":-4,"y":0.06},{"g":"II","s":12,"x":-3.5,"y":0.08},{"g":"II","s":12,"x":-3,"y":0.1},{"g":"II","s":12,"x":-2.7,"y":0.12},{"g":"II","s":12,"x":-2.4,"y":0.11},{"g":"II","s":12,"x":-2,"y":0.1},{"g":"II","s":12,"x":-1.5,"y":0.11},{"g":"II","s":12,"x":-1,"y":0.15},{"g":"II","s":12,"x":-0.6,"y":0.19},{"g":"II","s":12,"x":-0.3,"y":0.2},{"g":"II","s":12,"x":0,"y":0.22},{"g":"II","s":12,"x":0.3,"y":0.2},{"g":"II","s":12,"x":0.6,"y":0.24},{"g":"II","s":12,"x":0.8,"y":0.2},{"g":"II","s":12,"x":1.1,"y":0.14},{"g":"II","s":12,"x":1.5,"y":0.1},{"g":"II","s":12,"x":2,"y":0.08},{"g":"II","s":12,"x":2.5,"y":0.07},{"g":"II","s":12,"x":2.8,"y":0.1},{"g":"II","s":12,"x":3.0,"y":0.2},{"g":"II","s":12,"x":3.2,"y":0.35},{"g":"II","s":12,"x":3.5,"y":0.4},{"g":"II","s":12,"x":3.8,"y":0.45},{"g":"II","s":12,"x":4.1,"y":0.5},{"g":"II","s":12,"x":4.4,"y":0.55},{"g":"II","s":12,"x":4.7,"y":0.7},{"g":"II","s":12,"x":5.0,"y":0.6},{"g":"II","s":12,"x":5.2,"y":0.45},{"g":"II","s":12,"x":5.4,"y":0.28},{"g":"II","s":12,"x":5.55,"y":0.5},{"g":"II","s":12,"x":5.8,"y":0.9},{"g":"II","s":12,"x":6.1,"y":1.2},{"g":"II","s":12,"x":6.4,"y":1.45},{"g":"II","s":12,"x":6.7,"y":1.6},{"g":"II","s":12,"x":7.0,"y":1.75},{"g":"II","s":12,"x":7.2,"y":1.95},{"g":"II","s":12,"x":7.35,"y":2.3},{"g":"II","s":12,"x":7.5,"y":2.7},{"g":"II","s":12,"x":7.62,"y":3.05},{"g":"II","s":12,"x":7.74,"y":3.22},{"g":"II","s":12,"x":7.85,"y":3.0},{"g":"II","s":12,"x":7.95,"y":2.5},{"g":"II","s":12,"x":8.05,"y":1.8},{"g":"II","s":12,"x":8.15,"y":1.3},{"g":"II","s":12,"x":8.25,"y":0.95},{"g":"II","s":12,"x":8.35,"y":0.75},{"g":"II","s":12,"x":8.5,"y":0.68},{"g":"II","s":12,"x":8.65,"y":0.6},{"g":"II","s":12,"x":8.8,"y":0.5},{"g":"II","s":12,"x":8.95,"y":0.42},{"g":"II","s":12,"x":9.05,"y":0.46},{"g":"II","s":12,"x":9.15,"y":0.3},{"g":"II","s":12,"x":9.3,"y":0.2},{"g":"II","s":12,"x":9.5,"y":0.12},{"g":"II","s":12,"x":9.75,"y":0.06},{"g":"II","s":12,"x":10,"y":0.02},
{"g":"II","s":13,"x":-10,"y":0.03},{"g":"II","s":13,"x":-9,"y":0.03},{"g":"II","s":13,"x":-8,"y":0.03},{"g":"II","s":13,"x":-7,"y":0.03},{"g":"II","s":13,"x":-6,"y":0.04},{"g":"II","s":13,"x":-5,"y":0.05},{"g":"II","s":13,"x":-4,"y":0.06},{"g":"II","s":13,"x":-3.5,"y":0.08},{"g":"II","s":13,"x":-3,"y":0.1},{"g":"II","s":13,"x":-2.7,"y":0.13},{"g":"II","s":13,"x":-2.4,"y":0.12},{"g":"II","s":13,"x":-2,"y":0.11},{"g":"II","s":13,"x":-1.5,"y":0.12},{"g":"II","s":13,"x":-1,"y":0.16},{"g":"II","s":13,"x":-0.6,"y":0.2},{"g":"II","s":13,"x":-0.3,"y":0.24},{"g":"II","s":13,"x":0,"y":0.27},{"g":"II","s":13,"x":0.2,"y":0.2},{"g":"II","s":13,"x":0.5,"y":0.15},{"g":"II","s":13,"x":1,"y":0.11},{"g":"II","s":13,"x":1.5,"y":0.09},{"g":"II","s":13,"x":2,"y":0.07},{"g":"II","s":13,"x":2.5,"y":0.08},{"g":"II","s":13,"x":2.9,"y":0.15},{"g":"II","s":13,"x":3.1,"y":0.3},{"g":"II","s":13,"x":3.3,"y":0.4},{"g":"II","s":13,"x":3.5,"y":0.5},{"g":"II","s":13,"x":3.7,"y":0.45},{"g":"II","s":13,"x":3.94,"y":0.89},{"g":"II","s":13,"x":4.05,"y":0.6},{"g":"II","s":13,"x":4.2,"y":0.5},{"g":"II","s":13,"x":4.4,"y":0.65},{"g":"II","s":13,"x":4.6,"y":0.55},{"g":"II","s":13,"x":4.8,"y":0.7},{"g":"II","s":13,"x":5.0,"y":0.9},{"g":"II","s":13,"x":5.2,"y":1.2},{"g":"II","s":13,"x":5.35,"y":1.5},{"g":"II","s":13,"x":5.5,"y":1.8},{"g":"II","s":13,"x":5.6,"y":1.9},{"g":"II","s":13,"x":5.75,"y":2.3},{"g":"II","s":13,"x":5.9,"y":2.45},{"g":"II","s":13,"x":6.0,"y":2.57},{"g":"II","s":13,"x":6.1,"y":2.7},{"g":"II","s":13,"x":6.24,"y":2.83},{"g":"II","s":13,"x":6.35,"y":2.75},{"g":"II","s":13,"x":6.45,"y":2.5},{"g":"II","s":13,"x":6.55,"y":2.1},{"g":"II","s":13,"x":6.65,"y":1.7},{"g":"II","s":13,"x":6.75,"y":1.3},{"g":"II","s":13,"x":6.85,"y":1.0},{"g":"II","s":13,"x":7.0,"y":0.7},{"g":"II","s":13,"x":7.2,"y":0.45},{"g":"II","s":13,"x":7.5,"y":0.25},{"g":"II","s":13,"x":7.9,"y":0.12},{"g":"II","s":13,"x":8.4,"y":0.06},{"g":"II","s":13,"x":9,"y":0.03},{"g":"II","s":13,"x":10,"y":0.01},
{"g":"II","s":14,"x":-10,"y":0.03},{"g":"II","s":14,"x":-9,"y":0.03},{"g":"II","s":14,"x":-8,"y":0.035},{"g":"II","s":14,"x":-7,"y":0.04},{"g":"II","s":14,"x":-6,"y":0.045},{"g":"II","s":14,"x":-5,"y":0.05},{"g":"II","s":14,"x":-4,"y":0.07},{"g":"II","s":14,"x":-3.5,"y":0.09},{"g":"II","s":14,"x":-3,"y":0.11},{"g":"II","s":14,"x":-2.7,"y":0.14},{"g":"II","s":14,"x":-2.4,"y":0.13},{"g":"II","s":14,"x":-2,"y":0.11},{"g":"II","s":14,"x":-1.5,"y":0.12},{"g":"II","s":14,"x":-1,"y":0.14},{"g":"II","s":14,"x":-0.6,"y":0.17},{"g":"II","s":14,"x":-0.3,"y":0.2},{"g":"II","s":14,"x":0,"y":0.22},{"g":"II","s":14,"x":0.3,"y":0.23},{"g":"II","s":14,"x":0.6,"y":0.2},{"g":"II","s":14,"x":1,"y":0.14},{"g":"II","s":14,"x":1.5,"y":0.1},{"g":"II","s":14,"x":2,"y":0.08},{"g":"II","s":14,"x":2.5,"y":0.08},{"g":"II","s":14,"x":2.9,"y":0.1},{"g":"II","s":14,"x":3.2,"y":0.2},{"g":"II","s":14,"x":3.5,"y":0.3},{"g":"II","s":14,"x":3.8,"y":0.38},{"g":"II","s":14,"x":4.1,"y":0.45},{"g":"II","s":14,"x":4.4,"y":0.5},{"g":"II","s":14,"x":4.7,"y":0.6},{"g":"II","s":14,"x":5.0,"y":0.55},{"g":"II","s":14,"x":5.3,"y":0.75},{"g":"II","s":14,"x":5.6,"y":1.0},{"g":"II","s":14,"x":5.9,"y":1.3},{"g":"II","s":14,"x":6.1,"y":1.7},{"g":"II","s":14,"x":6.3,"y":2.0},{"g":"II","s":14,"x":6.45,"y":2.15},{"g":"II","s":14,"x":6.55,"y":2.3},{"g":"II","s":14,"x":6.65,"y":2.45},{"g":"II","s":14,"x":6.8,"y":2.42},{"g":"II","s":14,"x":6.95,"y":2.38},{"g":"II","s":14,"x":7.06,"y":2.35},{"g":"II","s":14,"x":7.15,"y":2.2},{"g":"II","s":14,"x":7.25,"y":2.0},{"g":"II","s":14,"x":7.35,"y":1.7},{"g":"II","s":14,"x":7.45,"y":1.3},{"g":"II","s":14,"x":7.55,"y":0.95},{"g":"II","s":14,"x":7.7,"y":0.8},{"g":"II","s":14,"x":7.85,"y":0.6},{"g":"II","s":14,"x":8.0,"y":0.4},{"g":"II","s":14,"x":8.2,"y":0.25},{"g":"II","s":14,"x":8.5,"y":0.13},{"g":"II","s":14,"x":8.9,"y":0.07},{"g":"II","s":14,"x":9.4,"y":0.03},{"g":"II","s":14,"x":10,"y":0.01},
{"g":"II","s":15,"x":-10,"y":0.02},{"g":"II","s":15,"x":-9,"y":0.025},{"g":"II","s":15,"x":-8,"y":0.03},{"g":"II","s":15,"x":-7,"y":0.03},{"g":"II","s":15,"x":-6,"y":0.035},{"g":"II","s":15,"x":-5,"y":0.045},{"g":"II","s":15,"x":-4,"y":0.055},{"g":"II","s":15,"x":-3.5,"y":0.07},{"g":"II","s":15,"x":-3,"y":0.09},{"g":"II","s":15,"x":-2.7,"y":0.12},{"g":"II","s":15,"x":-2.4,"y":0.11},{"g":"II","s":15,"x":-2,"y":0.1},{"g":"II","s":15,"x":-1.5,"y":0.1},{"g":"II","s":15,"x":-1,"y":0.13},{"g":"II","s":15,"x":-0.6,"y":0.17},{"g":"II","s":15,"x":-0.3,"y":0.2},{"g":"II","s":15,"x":0,"y":0.2},{"g":"II","s":15,"x":0.3,"y":0.18},{"g":"II","s":15,"x":0.6,"y":0.15},{"g":"II","s":15,"x":1,"y":0.12},{"g":"II","s":15,"x":1.5,"y":0.09},{"g":"II","s":15,"x":2,"y":0.07},{"g":"II","s":15,"x":2.5,"y":0.07},{"g":"II","s":15,"x":2.9,"y":0.1},{"g":"II","s":15,"x":3.1,"y":0.2},{"g":"II","s":15,"x":3.3,"y":0.35},{"g":"II","s":15,"x":3.5,"y":0.45},{"g":"II","s":15,"x":3.7,"y":0.55},{"g":"II","s":15,"x":3.9,"y":0.5},{"g":"II","s":15,"x":4.1,"y":0.62},{"g":"II","s":15,"x":4.3,"y":0.45},{"g":"II","s":15,"x":4.5,"y":0.55},{"g":"II","s":15,"x":4.7,"y":0.75},{"g":"II","s":15,"x":4.9,"y":0.6},{"g":"II","s":15,"x":5.1,"y":0.8},{"g":"II","s":15,"x":5.3,"y":1.1},{"g":"II","s":15,"x":5.5,"y":1.45},{"g":"II","s":15,"x":5.7,"y":1.75},{"g":"II","s":15,"x":5.9,"y":2.0},{"g":"II","s":15,"x":6.05,"y":2.1},{"g":"II","s":15,"x":6.2,"y":2.17},{"g":"II","s":15,"x":6.35,"y":2.05},{"g":"II","s":15,"x":6.5,"y":1.8},{"g":"II","s":15,"x":6.65,"y":1.5},{"g":"II","s":15,"x":6.8,"y":1.2},{"g":"II","s":15,"x":6.95,"y":1.0},{"g":"II","s":15,"x":7.1,"y":0.95},{"g":"II","s":15,"x":7.25,"y":0.85},{"g":"II","s":15,"x":7.4,"y":0.6},{"g":"II","s":15,"x":7.6,"y":0.4},{"g":"II","s":15,"x":7.85,"y":0.25},{"g":"II","s":15,"x":8.2,"y":0.14},{"g":"II","s":15,"x":8.7,"y":0.07},{"g":"II","s":15,"x":9.3,"y":0.03},{"g":"II","s":15,"x":10,"y":0.01},
{"g":"II","s":16,"x":-10,"y":0.03},{"g":"II","s":16,"x":-9,"y":0.03},{"g":"II","s":16,"x":-8,"y":0.03},{"g":"II","s":16,"x":-7,"y":0.035},{"g":"II","s":16,"x":-6,"y":0.04},{"g":"II","s":16,"x":-5,"y":0.05},{"g":"II","s":16,"x":-4,"y":0.065},{"g":"II","s":16,"x":-3.5,"y":0.085},{"g":"II","s":16,"x":-3,"y":0.1},{"g":"II","s":16,"x":-2.7,"y":0.13},{"g":"II","s":16,"x":-2.4,"y":0.12},{"g":"II","s":16,"x":-2,"y":0.1},{"g":"II","s":16,"x":-1.5,"y":0.11},{"g":"II","s":16,"x":-1,"y":0.14},{"g":"II","s":16,"x":-0.6,"y":0.18},{"g":"II","s":16,"x":-0.3,"y":0.21},{"g":"II","s":16,"x":0,"y":0.23},{"g":"II","s":16,"x":0.3,"y":0.2},{"g":"II","s":16,"x":0.6,"y":0.15},{"g":"II","s":16,"x":1,"y":0.12},{"g":"II","s":16,"x":1.5,"y":0.09},{"g":"II","s":16,"x":2,"y":0.07},{"g":"II","s":16,"x":2.5,"y":0.07},{"g":"II","s":16,"x":2.8,"y":0.09},{"g":"II","s":16,"x":3.0,"y":0.18},{"g":"II","s":16,"x":3.2,"y":0.28},{"g":"II","s":16,"x":3.4,"y":0.38},{"g":"II","s":16,"x":3.6,"y":0.3},{"g":"II","s":16,"x":3.8,"y":0.45},{"g":"II","s":16,"x":4.0,"y":0.55},{"g":"II","s":16,"x":4.2,"y":0.4},{"g":"II","s":16,"x":4.4,"y":0.5},{"g":"II","s":16,"x":4.6,"y":0.7},{"g":"II","s":16,"x":4.8,"y":0.55},{"g":"II","s":16,"x":5.0,"y":0.65},{"g":"II","s":16,"x":5.2,"y":0.9},{"g":"II","s":16,"x":5.4,"y":1.2},{"g":"II","s":16,"x":5.6,"y":1.45},{"g":"II","s":16,"x":5.8,"y":1.7},{"g":"II","s":16,"x":5.95,"y":1.85},{"g":"II","s":16,"x":6.08,"y":1.9},{"g":"II","s":16,"x":6.2,"y":1.8},{"g":"II","s":16,"x":6.35,"y":1.55},{"g":"II","s":16,"x":6.5,"y":1.25},{"g":"II","s":16,"x":6.65,"y":1.0},{"g":"II","s":16,"x":6.8,"y":0.75},{"g":"II","s":16,"x":7.0,"y":0.5},{"g":"II","s":16,"x":7.2,"y":0.32},{"g":"II","s":16,"x":7.5,"y":0.18},{"g":"II","s":16,"x":7.9,"y":0.1},{"g":"II","s":16,"x":8.5,"y":0.05},{"g":"II","s":16,"x":9.2,"y":0.02},{"g":"II","s":16,"x":10,"y":0.01},
{"g":"II","s":17,"x":-10,"y":0.03},{"g":"II","s":17,"x":-9,"y":0.03},{"g":"II","s":17,"x":-8,"y":0.03},{"g":"II","s":17,"x":-7,"y":0.035},{"g":"II","s":17,"x":-6,"y":0.04},{"g":"II","s":17,"x":-5,"y":0.05},{"g":"II","s":17,"x":-4,"y":0.06},{"g":"II","s":17,"x":-3.5,"y":0.08},{"g":"II","s":17,"x":-3,"y":0.1},{"g":"II","s":17,"x":-2.7,"y":0.12},{"g":"II","s":17,"x":-2.4,"y":0.11},{"g":"II","s":17,"x":-2,"y":0.1},{"g":"II","s":17,"x":-1.5,"y":0.12},{"g":"II","s":17,"x":-1,"y":0.15},{"g":"II","s":17,"x":-0.6,"y":0.19},{"g":"II","s":17,"x":-0.3,"y":0.22},{"g":"II","s":17,"x":0,"y":0.24},{"g":"II","s":17,"x":0.3,"y":0.22},{"g":"II","s":17,"x":0.7,"y":0.25},{"g":"II","s":17,"x":0.9,"y":0.2},{"g":"II","s":17,"x":1.2,"y":0.14},{"g":"II","s":17,"x":1.6,"y":0.1},{"g":"II","s":17,"x":2,"y":0.08},{"g":"II","s":17,"x":2.5,"y":0.07},{"g":"II","s":17,"x":2.9,"y":0.1},{"g":"II","s":17,"x":3.1,"y":0.18},{"g":"II","s":17,"x":3.3,"y":0.3},{"g":"II","s":17,"x":3.5,"y":0.45},{"g":"II","s":17,"x":3.7,"y":0.6},{"g":"II","s":17,"x":3.9,"y":0.7},{"g":"II","s":17,"x":4.1,"y":0.55},{"g":"II","s":17,"x":4.3,"y":0.6},{"g":"II","s":17,"x":4.5,"y":0.45},{"g":"II","s":17,"x":4.7,"y":0.5},{"g":"II","s":17,"x":4.9,"y":0.65},{"g":"II","s":17,"x":5.1,"y":0.85},{"g":"II","s":17,"x":5.3,"y":1.05},{"g":"II","s":17,"x":5.5,"y":1.3},{"g":"II","s":17,"x":5.65,"y":1.45},{"g":"II","s":17,"x":5.8,"y":1.5},{"g":"II","s":17,"x":5.95,"y":1.4},{"g":"II","s":17,"x":6.1,"y":1.2},{"g":"II","s":17,"x":6.3,"y":0.95},{"g":"II","s":17,"x":6.5,"y":0.7},{"g":"II","s":17,"x":6.7,"y":0.5},{"g":"II","s":17,"x":6.95,"y":0.32},{"g":"II","s":17,"x":7.3,"y":0.18},{"g":"II","s":17,"x":7.7,"y":0.1},{"g":"II","s":17,"x":8.3,"y":0.05},{"g":"II","s":17,"x":9,"y":0.02},{"g":"II","s":17,"x":10,"y":0.01},
{"g":"II","s":18,"x":-10,"y":0.025},{"g":"II","s":18,"x":-9,"y":0.03},{"g":"II","s":18,"x":-8,"y":0.03},{"g":"II","s":18,"x":-7,"y":0.03},{"g":"II","s":18,"x":-6,"y":0.04},{"g":"II","s":18,"x":-5,"y":0.045},{"g":"II","s":18,"x":-4,"y":0.06},{"g":"II","s":18,"x":-3.5,"y":0.075},{"g":"II","s":18,"x":-3,"y":0.095},{"g":"II","s":18,"x":-2.7,"y":0.12},{"g":"II","s":18,"x":-2.4,"y":0.11},{"g":"II","s":18,"x":-2,"y":0.1},{"g":"II","s":18,"x":-1.5,"y":0.11},{"g":"II","s":18,"x":-1,"y":0.13},{"g":"II","s":18,"x":-0.6,"y":0.16},{"g":"II","s":18,"x":-0.3,"y":0.19},{"g":"II","s":18,"x":0,"y":0.21},{"g":"II","s":18,"x":0.3,"y":0.22},{"g":"II","s":18,"x":0.5,"y":0.2},{"g":"II","s":18,"x":0.8,"y":0.14},{"g":"II","s":18,"x":1.2,"y":0.1},{"g":"II","s":18,"x":1.6,"y":0.08},{"g":"II","s":18,"x":2,"y":0.07},{"g":"II","s":18,"x":2.5,"y":0.07},{"g":"II","s":18,"x":2.9,"y":0.12},{"g":"II","s":18,"x":3.2,"y":0.25},{"g":"II","s":18,"x":3.4,"y":0.35},{"g":"II","s":18,"x":3.6,"y":0.5},{"g":"II","s":18,"x":3.8,"y":0.4},{"g":"II","s":18,"x":4.0,"y":0.65},{"g":"II","s":18,"x":4.2,"y":0.75},{"g":"II","s":18,"x":4.4,"y":0.55},{"g":"II","s":18,"x":4.6,"y":0.7},{"g":"II","s":18,"x":4.8,"y":0.95},{"g":"II","s":18,"x":5.0,"y":1.2},{"g":"II","s":18,"x":5.2,"y":1.5},{"g":"II","s":18,"x":5.4,"y":1.8},{"g":"II","s":18,"x":5.55,"y":2.0},{"g":"II","s":18,"x":5.7,"y":2.15},{"g":"II","s":18,"x":5.8,"y":2.25},{"g":"II","s":18,"x":5.9,"y":2.3},{"g":"II","s":18,"x":6.0,"y":2.2},{"g":"II","s":18,"x":6.1,"y":2.0},{"g":"II","s":18,"x":6.2,"y":1.7},{"g":"II","s":18,"x":6.35,"y":1.35},{"g":"II","s":18,"x":6.5,"y":1.05},{"g":"II","s":18,"x":6.65,"y":0.8},{"g":"II","s":18,"x":6.85,"y":0.55},{"g":"II","s":18,"x":7.05,"y":0.38},{"g":"II","s":18,"x":7.3,"y":0.24},{"g":"II","s":18,"x":7.6,"y":0.14},{"g":"II","s":18,"x":8.0,"y":0.08},{"g":"II","s":18,"x":8.6,"y":0.04},{"g":"II","s":18,"x":9.3,"y":0.02},{"g":"II","s":18,"x":10,"y":0.01}
 ]
},
"resolve": {"axis": {"x": "independent", "y": "independent"}},
"layer": [
 {"data": {"name": "box"}, "mark": {"type": "rect", "color": "#F0F0F0"},
  "encoding": {
   "x": {"field": "x", "type": "quantitative", "scale": {"domain": [-10, 10], "nice": false, "zero": false}, "axis": {"orient": "top", "labels": false, "title": null, "values": [-10,-8,-6,-4,-2,0,2,4,6,8,10]}},
   "x2": {"field": "x2"},
   "y": {"field": "y", "type": "quantitative", "scale": {"domain": [0, 3.5], "nice": false, "zero": false}, "axis": {"orient": "right", "labels": false, "title": null, "values": [0,0.5,1,1.5,2,2.5,3,3.5]}},
   "y2": {"field": "y2"}
  }},
 {"data": {"name": "lines"}, "mark": {"type": "line", "strokeWidth": 3.2, "strokeJoin": "round", "strokeCap": "round"},
  "encoding": {
   "x": {"field": "x", "type": "quantitative", "scale": {"domain": [-10, 10], "nice": false, "zero": false}, "axis": {"orient": "bottom", "title": null, "values": [-10,-8,-6,-4,-2,0,2,4,6,8,10], "labelExpr": "'' + datum.value", "labelPadding": 22}},
   "y": {"field": "y", "type": "quantitative", "scale": {"domain": [0, 3.5], "nice": false, "zero": false}, "axis": {"orient": "left", "values": [0,0.5,1,1.5,2,2.5,3,3.5], "labelExpr": "'' + datum.value", "labelPadding": 7, "title": "C-III [a.u.]", "titleFont": "DejaVu Sans", "titleFontSize": 29, "titleFontWeight": "bold", "titleColor": "#111", "titlePadding": 4}},
   "color": {"field": "g", "type": "nominal", "scale": {"domain": ["I", "II"], "range": ["#71CBE1", "#F8918F"]}, "legend": null},
   "detail": {"field": "s", "type": "nominal"}
  }},
 {"data": {"name": "leg"}, "mark": {"type": "text", "align": "left", "baseline": "alphabetic", "font": "Liberation Sans, Arial, sans-serif", "fontSize": 27.5, "fontWeight": "bold"},
  "encoding": {
   "x": {"field": "x", "type": "quantitative", "scale": {"domain": [-10, 10], "nice": false, "zero": false}, "axis": null},
   "y": {"field": "y", "type": "quantitative", "scale": {"domain": [0, 3.5], "nice": false, "zero": false}, "axis": null},
   "color": {"field": "g", "type": "nominal", "legend": null},
   "text": {"field": "t"}
  }},
 {"data": {"name": "lab"}, "mark": {"type": "text", "align": "center", "baseline": "alphabetic", "font": "Lato, Open Sans, sans-serif", "fontSize": 45, "fontWeight": "bold", "color": "#111"},
  "encoding": {
   "x": {"field": "x", "type": "quantitative", "scale": {"domain": [-10, 10], "nice": false, "zero": false}, "axis": null},
   "y": {"field": "y", "type": "quantitative", "scale": {"domain": [0, 3.5], "nice": false, "zero": false}, "axis": null},
   "text": {"field": "t"}
  }},
 {"data": {"name": "xt1"}, "mark": {"type": "text", "align": "right", "baseline": "alphabetic", "font": "Liberation Sans, Arial, sans-serif", "fontSize": 27, "fontWeight": "bold", "color": "#111"},
  "encoding": {
   "x": {"field": "x", "type": "quantitative", "scale": {"domain": [-10, 10], "nice": false, "zero": false}, "axis": null},
   "y": {"field": "y", "type": "quantitative", "scale": {"domain": [0, 3.5], "nice": false, "zero": false}, "axis": null},
   "text": {"field": "t"}
  }},
 {"data": {"name": "xt3"}, "mark": {"type": "text", "align": "left", "baseline": "alphabetic", "font": "Liberation Sans, Arial, sans-serif", "fontSize": 27, "fontWeight": "bold", "color": "#111"},
  "encoding": {
   "x": {"field": "x", "type": "quantitative", "scale": {"domain": [-10, 10], "nice": false, "zero": false}, "axis": null},
   "y": {"field": "y", "type": "quantitative", "scale": {"domain": [0, 3.5], "nice": false, "zero": false}, "axis": null},
   "text": {"field": "t"}
  }},
 {"data": {"name": "xt2"}, "mark": {"type": "text", "align": "left", "baseline": "alphabetic", "font": "Liberation Sans, Arial, sans-serif", "fontSize": 20, "fontWeight": "bold", "color": "#111"},
  "encoding": {
   "x": {"field": "x", "type": "quantitative", "scale": {"domain": [-10, 10], "nice": false, "zero": false}, "axis": null},
   "y": {"field": "y", "type": "quantitative", "scale": {"domain": [0, 3.5], "nice": false, "zero": false}, "axis": null},
   "text": {"field": "t"}
  }}
]
}
